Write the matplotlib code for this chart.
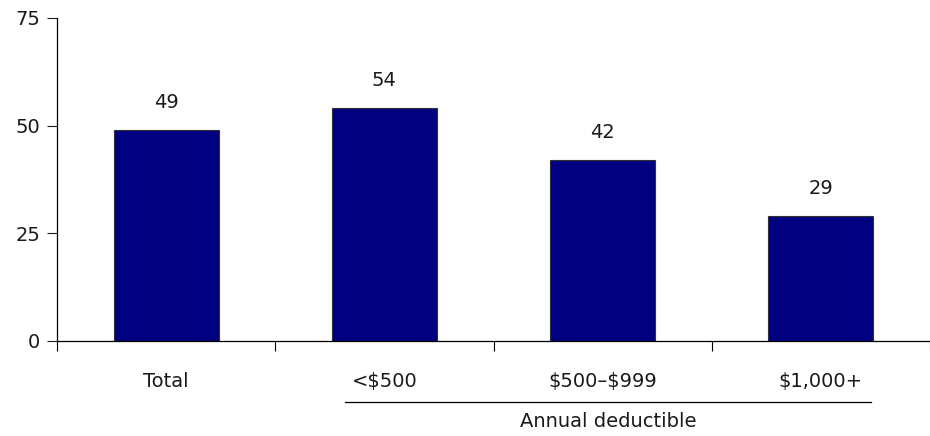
import matplotlib
matplotlib.use("Agg")
import matplotlib.pyplot as plt
from matplotlib.transforms import blended_transform_factory

categories = ["Total", "<\\$500", "\\$500\u2013\\$999", "\\$1,000+"]
values = [49, 54, 42, 29]
y_ticks = [0, 25, 50, 75]
group_label = "Annual deductible"

plt.rcParams['font.family'] = ['DejaVu Sans']

fig = plt.figure(figsize=(9.30, 4.36), dpi=100)
ax = fig.add_axes([0.0613, 0.218, 0.9387, 0.741])

x = list(range(len(categories)))
ax.bar(x, values, width=0.48, color='#000080', edgecolor='#333333', linewidth=0.8)

for xi, v in zip(x, values):
    ax.annotate(str(v), (xi, v), xytext=(0, 13), textcoords='offset points',
                ha='center', va='bottom', fontsize=14, color='#1a1a1a')

ax.set_xlim(-0.5, len(categories) - 0.5)
ax.set_ylim(0, 75)
ax.set_yticks(y_ticks)
ax.tick_params(axis='y', length=7, width=0.8, labelsize=14, pad=5, colors='#1a1a1a')

# boundary ticks between categories, labels at centres
ax.set_xticks([i - 0.5 for i in range(len(categories) + 1)])
ax.set_xticklabels([])
ax.set_xticks(x, minor=True)
ax.set_xticklabels(categories, minor=True, fontsize=14, color='#1a1a1a')
ax.tick_params(axis='x', which='major', length=7, width=0.8)
ax.tick_params(axis='x', which='minor', length=0, pad=22)

for side in ['top', 'right']:
    ax.spines[side].set_visible(False)
ax.spines['left'].set_linewidth(0.9)
ax.spines['bottom'].set_linewidth(0.9)

# group underline and label
trans = blended_transform_factory(ax.transData, ax.transAxes)
ax.plot([0.82, 3.23], [-0.19, -0.19], color='black', linewidth=0.9,
        transform=trans, clip_on=False)
ax.text((0.82 + 3.23) / 2, -0.22, group_label, transform=trans,
        ha='center', va='top', fontsize=14, color='#1a1a1a')

fig.savefig("out.png", dpi=100)
plt.close()
